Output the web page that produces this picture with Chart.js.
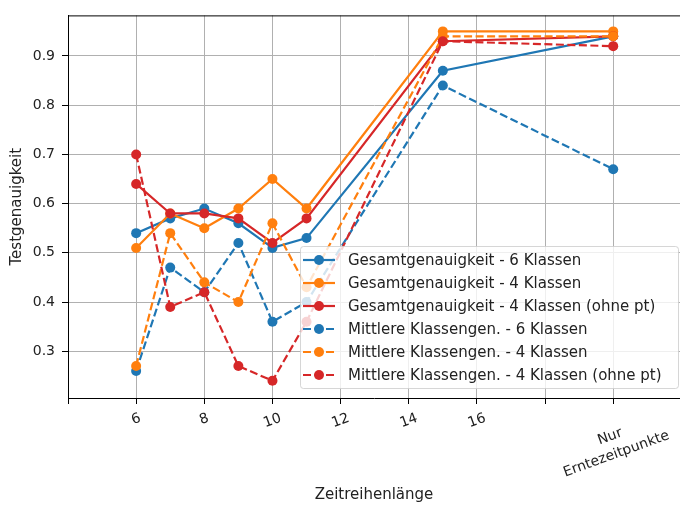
<!DOCTYPE html>
<html>
<head>
<meta charset="utf-8">
<script src="https://cdn.jsdelivr.net/npm/chart.js@4.4.1/dist/chart.umd.min.js"></script>
<style>
html, body { margin: 0; padding: 0; background: #fff; }
</style>
</head>
<body>
<canvas id="chart" width="680" height="506"></canvas>
<script>
// x positions (20 = "Nur Erntezeitpunkte")
const xValues = [6, 7, 8, 9, 10, 11, 15, 20];
const xTickValues = [4, 6, 8, 10, 12, 14, 16, 18, 20];
const xTickLabels = [[''], ['6'], ['8'], ['10'], ['12'], ['14'], ['16'], [''], ['Nur', 'Erntezeitpunkte']];
const yTickValues = [0.3, 0.4, 0.5, 0.6, 0.7, 0.8, 0.9];

const seriesNames = [
    'Gesamtgenauigkeit - 6 Klassen',
    'Gesamtgenauigkeit - 4 Klassen',
    'Gesamtgenauigkeit - 4 Klassen (ohne pt)',
    'Mittlere Klassengen. - 6 Klassen',
    'Mittlere Klassengen. - 4 Klassen',
    'Mittlere Klassengen. - 4 Klassen (ohne pt)'
];
const gesamt6 = [0.54, 0.57, 0.59, 0.56, 0.51, 0.53, 0.87, 0.94];
const gesamt4 = [0.51, 0.58, 0.55, 0.59, 0.65, 0.59, 0.95, 0.95];
const gesamt4ohne = [0.64, 0.58, 0.58, 0.57, 0.52, 0.57, 0.93, 0.94];
const mittel6 = [0.26, 0.47, 0.42, 0.52, 0.36, 0.40, 0.84, 0.67];
const mittel4 = [0.27, 0.54, 0.44, 0.40, 0.56, 0.43, 0.94, 0.94];
const mittel4ohne = [0.70, 0.39, 0.42, 0.27, 0.24, 0.36, 0.93, 0.92];

const allSeries = [gesamt6, gesamt4, gesamt4ohne, mittel6, mittel4, mittel4ohne];
const colors = ['#1f77b4', '#ff7f0e', '#d62728', '#1f77b4', '#ff7f0e', '#d62728'];
const dashed = [false, false, false, true, true, true];

const fontFamily = '"DejaVu Sans", sans-serif';
const tickSize = 14;
const labelSize = 15;
const textColor = '#222';
const dashPattern = [8, 3.5];

let datasets = [];
for (let i = 0; i < allSeries.length; i++) {
    datasets.push({
        label: seriesNames[i],
        data: xValues.map((x, j) => ({ x: x, y: allSeries[i][j] })),
        borderColor: colors[i],
        backgroundColor: colors[i],
        pointBackgroundColor: colors[i],
        pointBorderColor: colors[i],
        pointBorderWidth: 0,
        pointRadius: 5,
        borderWidth: 2.2,
        borderDash: dashed[i] ? dashPattern : [],
        tension: 0,
        fill: false,
        order: allSeries.length - i   // later series on top, like matplotlib
    });
}

//draws top spine, rotated x labels and the legend box
const extras = {
    id: 'extras',
    afterDraw(chart) {
        const ctx = chart.ctx;
        const area = chart.chartArea;
        const xs = chart.scales.x;

        // top spine
        ctx.save();
        ctx.strokeStyle = '#000';
        ctx.lineWidth = 1;
        ctx.beginPath();
        ctx.moveTo(area.left, area.top + 0.5);
        ctx.lineTo(area.right, area.top + 0.5);
        ctx.stroke();
        ctx.restore();

        // x tick labels, rotated 20 deg about their centre
        const ang = 20 * Math.PI / 180;
        const lineH = 18.5;
        const topY = area.bottom + 11;
        ctx.save();
        ctx.font = tickSize + 'px ' + fontFamily;
        ctx.fillStyle = textColor;
        ctx.textAlign = 'center';
        ctx.textBaseline = 'middle';
        for (let i = 0; i < xTickValues.length; i++) {
            const lines = xTickLabels[i];
            if (lines.join('') === '') continue;
            let w = 0;
            lines.forEach(l => { w = Math.max(w, ctx.measureText(l).width); });
            const h = lines.length * lineH;
            const H = w * Math.sin(ang) + h * Math.cos(ang);
            const cx = xs.getPixelForValue(xTickValues[i]);
            const cy = topY + H / 2;
            ctx.save();
            ctx.translate(cx, cy);
            ctx.rotate(-ang);
            for (let k = 0; k < lines.length; k++) {
                ctx.fillText(lines[k], 0, (k - (lines.length - 1) / 2) * lineH);
            }
            ctx.restore();
        }
        ctx.restore();

        // legend
        const bx = 300, by = 246, bw = 378, bh = 142;
        ctx.save();
        ctx.fillStyle = 'rgba(255,255,255,0.8)';
        ctx.strokeStyle = 'rgba(204,204,204,0.8)';
        ctx.lineWidth = 1;
        ctx.beginPath();
        ctx.roundRect(bx + 0.5, by + 0.5, bw, bh, 3);
        ctx.fill();
        ctx.stroke();
        ctx.font = labelSize + 'px ' + fontFamily;
        ctx.textBaseline = 'middle';
        ctx.textAlign = 'left';
        for (let i = 0; i < seriesNames.length; i++) {
            const y = 260 + i * 23;
            ctx.strokeStyle = colors[i];
            ctx.lineWidth = 2.2;
            ctx.setLineDash(dashed[i] ? dashPattern : []);
            ctx.beginPath();
            ctx.moveTo(303, y);
            ctx.lineTo(335, y);
            ctx.stroke();
            ctx.setLineDash([]);
            ctx.fillStyle = colors[i];
            ctx.beginPath();
            ctx.arc(319, y, 5, 0, Math.PI * 2);
            ctx.fill();
            ctx.fillStyle = textColor;
            ctx.fillText(seriesNames[i], 348, y + 1);
        }
        ctx.restore();
    }
};

const chart = new Chart(document.getElementById('chart'), {
    type: 'line',
    data: { datasets: datasets },
    options: {
        responsive: false,
        devicePixelRatio: 1,
        animation: false,
        layout: { autoPadding: false, padding: { top: 12, right: 0, left: 0, bottom: 0 } },
        plugins: {
            legend: { display: false },
            tooltip: { enabled: false }
        },
        scales: {
            x: {
                type: 'linear',
                min: 4,
                max: 21.96,
                afterBuildTicks: s => { s.ticks = xTickValues.map(v => ({ value: v })); },
                afterFit: s => { s.height = 108; },
                ticks: { display: false },
                grid: { color: '#b0b0b0', lineWidth: 1, tickColor: '#000', tickLength: 6 },
                border: { color: '#000', width: 1 },
                title: {
                    display: true,
                    text: 'Zeitreihenlänge',
                    color: textColor,
                    font: { family: fontFamily, size: labelSize },
                    padding: { top: 0, bottom: 1.5 }
                }
            },
            y: {
                type: 'linear',
                min: 0.205,
                max: 0.9825,
                afterBuildTicks: s => { s.ticks = yTickValues.map(v => ({ value: v })); },
                afterFit: s => { s.width = 68; },
                ticks: {
                    callback: v => v.toFixed(1),
                    color: textColor,
                    font: { family: fontFamily, size: tickSize },
                    padding: 7
                },
                grid: { color: '#b0b0b0', lineWidth: 1, tickColor: '#000', tickLength: 6 },
                border: { color: '#000', width: 1 },
                title: {
                    display: true,
                    text: 'Testgenauigkeit',
                    color: textColor,
                    font: { family: fontFamily, size: labelSize },
                    padding: { top: 8.5, bottom: 0 }
                }
            }
        }
    },
    plugins: [extras]
});
</script>
</body>
</html>
